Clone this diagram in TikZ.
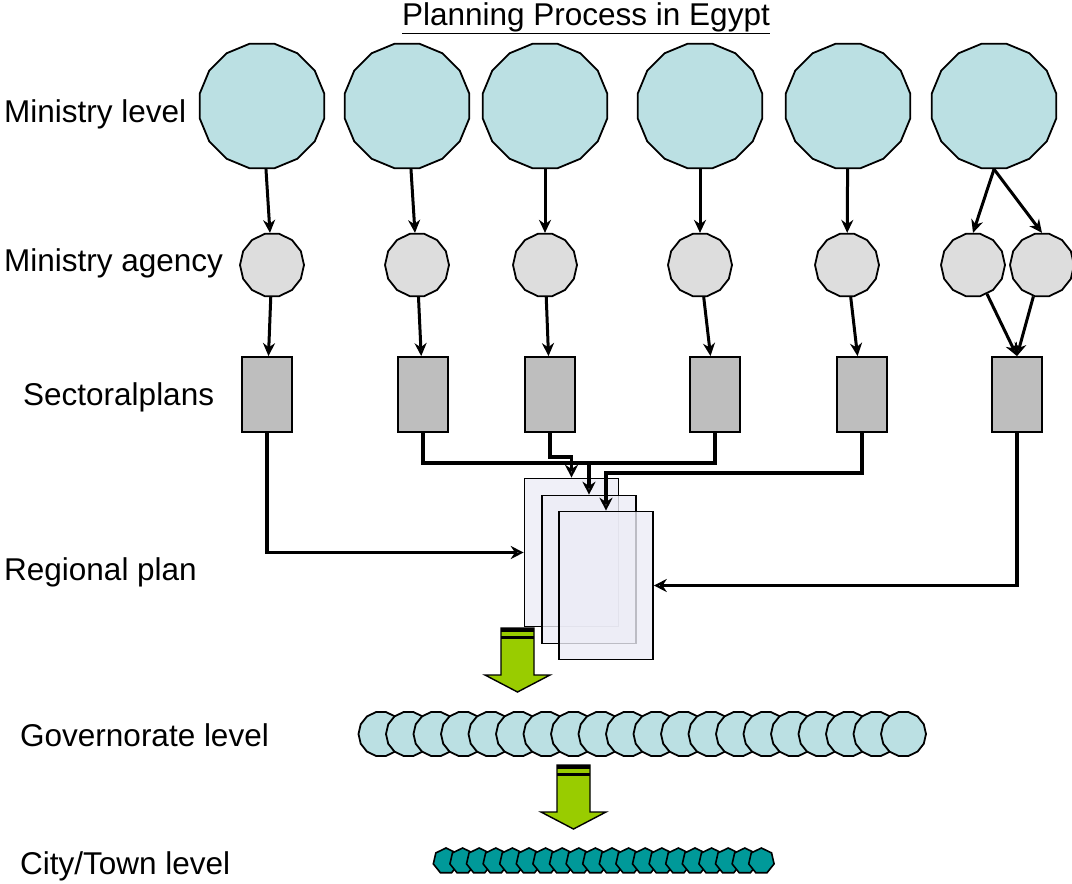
\documentclass[tikz,border=0pt]{standalone}
\usepackage{fontspec}
\setmainfont{Liberation Sans}
\usetikzlibrary{positioning, shapes.geometric, arrows.meta}

\definecolor{ministryblue}{RGB}{187,224,227}
\definecolor{agencygray}{RGB}{221,221,221}
\definecolor{plangray}{RGB}{190,190,190}
\definecolor{regionfill}{RGB}{236,236,246}
\definecolor{arrowgreen}{RGB}{153,204,0}
\definecolor{cityteal}{RGB}{0,153,153}

\tikzset{
  ministry/.style={regular polygon, regular polygon sides=16, minimum size=127pt, inner sep=0pt, draw, line width=1.8pt, fill=ministryblue},
  agency/.style={regular polygon, regular polygon sides=14, minimum size=64pt, inner sep=0pt, draw, line width=1.8pt, fill=agencygray},
  sectoral/.style={rectangle, draw, line width=1.8pt, fill=plangray, minimum width=50pt, minimum height=75pt, inner sep=0pt},
  regional/.style={rectangle, draw, line width=1.6pt, fill=regionfill, fill opacity=0.8, minimum width=94pt, minimum height=148pt, inner sep=0pt},
  gov/.style={regular polygon, regular polygon sides=14, minimum size=45pt, inner sep=0pt, draw, line width=1.8pt, fill=ministryblue},
  town/.style={regular polygon, regular polygon sides=7, minimum size=26pt, inner sep=0pt, draw, line width=1.6pt, fill=cityteal},
  level/.style={anchor=west, inner sep=0pt, font=\fontsize{31.5}{36}\selectfont},
  link/.style={line width=3pt, -{Stealth[length=13pt, width=12pt, open]}},
  feed/.style={line width=3.4pt, -{Stealth[length=13pt, width=13pt, open]}},
  greenarrow/.pic={
    \draw[line width=1.4pt, fill=arrowgreen] (-16.5,0) -- (16.5,0) -- (16.5,47) -- (32.5,47)
      -- (0,64) -- (-32.5,47) -- (-16.5,47) -- cycle;
    \fill (-16.5,0) rectangle (16.5,4);
    \fill (-16.5,8) rectangle (16.5,10.5);
  },
}

\begin{document}
\begin{tikzpicture}[x=1pt, y=-1pt]
        \useasboundingbox (0,0) rectangle (1072,884);
        \node[level, anchor=center] (title) at (586,18) {\underline{Planning Process in Egypt}};
        \node[level] (lmin) at (4,114) {Ministry level};
        \node[level] (lag) at (4,263) {Ministry agency};
        \node[level] (lsec) at (23,397) {Sectoralplans};
        \node[level] (lreg) at (4,572) {Regional plan};
        \node[level] (lgov) at (20,735) {Governorate level};
        \node[level] (lcity) at (20,866) {City/Town level};

        \node[ministry] (m1) at (262,106) {};
        \node[ministry] (m2) at (407,106) {};
        \node[ministry] (m3) at (545,106) {};
        \node[ministry] (m4) at (700,106) {};
        \node[ministry] (m5) at (848,106) {};
        \node[ministry] (m6) at (994,106) {};

        \node[agency] (a1) at (272,265) {};
        \node[agency] (a2) at (417,265) {};
        \node[agency] (a3) at (545,265) {};
        \node[agency] (a4) at (700,265) {};
        \node[agency] (a5) at (847,265) {};
        \node[agency] (a6) at (973,265) {};
        \node[agency] (a7) at (1042,265) {};

        \node[sectoral] (s1) at (267,394.5) {};
        \node[sectoral] (s2) at (423,394.5) {};
        \node[sectoral] (s3) at (550,394.5) {};
        \node[sectoral] (s4) at (715,394.5) {};
        \node[sectoral] (s5) at (862,394.5) {};
        \node[sectoral] (s6) at (1017,394.5) {};

        \node[regional] (r1) at (571.5,552.5) {};
        \node[regional] (r2) at (589,569.5) {};
        \node[regional] (r3) at (606,585.5) {};

        \draw[link] (m1) -- (a1);
        \draw[link] (m2) -- (a2);
        \draw[link] (m3) -- (a3);
        \draw[link] (m4) -- (a4);
        \draw[link] (m5) -- (a5);
        \draw[link] (m6.south) -- (a6.north);
        \draw[link] (m6.south) -- (a7.north);

        \draw[link] (a1) -- (s1);
        \draw[link] (a2) -- (s2);
        \draw[link] (a3) -- (s3);
        \draw[link] (a4) -- (s4);
        \draw[link] (a5) -- (s5);
        \draw[link] (a6) -- (s6.north);
        \draw[link] (a7) -- (s6.north);

        \coordinate (j1) at (589,463);
        \draw[feed] (s1.south) |- (r1.west);
        \draw[line width=3.4pt] (s2.south) |- (j1) -| (s4.south);
        \draw[feed] (j1) -- (r2.north);
        \draw[feed] (s3.south) -- ++(0,24) -| (r1.north);
        \draw[feed] (s5.south) -- ++(0,40) -| (r3.north);
        \draw[feed] (s6.south) |- (r3.east);

        \pic at (517.5,628) {greenarrow};
        \foreach \i in {0,...,19}
            \node[gov] (g\i) at ({381+27.5*\i},734) {};
        \pic at (573.5,765) {greenarrow};
        \foreach \i in {0,...,19}
            \node[town] (t\i) at ({446+16.6*\i},861) {};
    \end{tikzpicture}
\end{document}
